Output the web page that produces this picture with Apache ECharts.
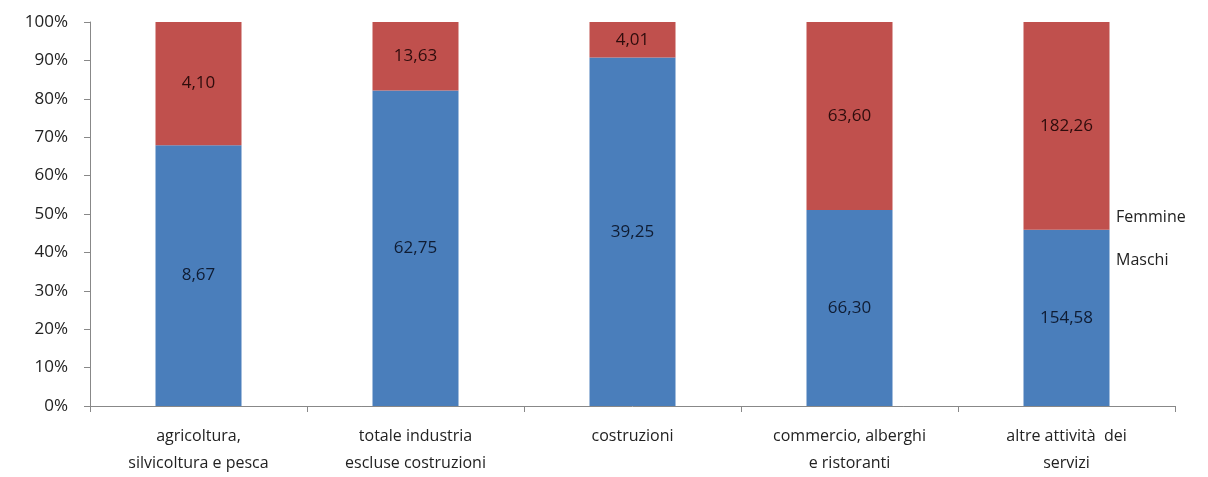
<!DOCTYPE html>
<html><head><meta charset="utf-8">
<script src="https://cdn.jsdelivr.net/npm/echarts@6/dist/echarts.min.js"></script>
<style>html,body{margin:0;padding:0;background:#fff}#c{width:1208px;height:477px}</style>
</head><body><div id="c"></div>
<script>
const categories = ["agricoltura,\nsilvicoltura e pesca","totale industria\nescluse costruzioni","costruzioni","commercio, alberghi\ne ristoranti","altre attività  dei\nservizi"];
const maschi = [8.67, 62.75, 39.25, 66.30, 154.58];
const femmine = [4.10, 13.63, 4.01, 63.60, 182.26];
const yTicks = [0,10,20,30,40,50,60,70,80,90,100];

const totals = maschi.map((v,i)=>v+femmine[i]);
const fmt = v => v.toFixed(2).replace('.', ',');
const font = "'Open Sans', 'Noto Sans', sans-serif";
const chart = echarts.init(document.getElementById('c'), null, {renderer:'canvas'});
chart.setOption({
  animation:false,
  grid:{left:90,right:33,top:22,bottom:71},
  legend:{
    data:['Femmine','Maschi'], orient:'vertical', left:1106, top:202, itemGap:23,
    itemWidth:0, itemHeight:0, icon:'none',
    textStyle:{color:'#222', fontSize:16, lineHeight:20, fontFamily:font}, selectedMode:false
  },
  xAxis:{
    type:'category', data:categories,
    axisLine:{lineStyle:{color:'#888'}},
    axisTick:{show:true, alignWithLabel:false, length:6, lineStyle:{color:'#888'}},
    axisLabel:{color:'#222', fontSize:16, fontFamily:font, lineHeight:27, margin:17, interval:0}
  },
  yAxis:{
    type:'value', min:0, max:100, interval:10,
    axisLine:{show:true, lineStyle:{color:'#888'}},
    axisTick:{show:true, length:6, lineStyle:{color:'#888'}},
    splitLine:{show:false},
    axisLabel:{formatter: v => yTicks.includes(v) ? v + '%' : '', color:'#222', fontSize:17, fontFamily:font, margin:22}
  },
  series:[
    {name:'Maschi', type:'bar', stack:'s', barWidth:86, itemStyle:{color:'#4A7EBB'},
     data: maschi.map((v,i)=>v/totals[i]*100),
     label:{show:true, position:'inside', color:'#0f1c33', fontSize:17, fontFamily:font,
       formatter: p => fmt(maschi[p.dataIndex])}},
    {name:'Femmine', type:'bar', stack:'s', barWidth:86, itemStyle:{color:'#C0504D'},
     data: femmine.map((v,i)=>v/totals[i]*100),
     label:{show:true, position:'inside', color:'#2e0c0c', fontSize:17, fontFamily:font,
       formatter: p => fmt(femmine[p.dataIndex])}}
  ]
});
</script></body></html>
